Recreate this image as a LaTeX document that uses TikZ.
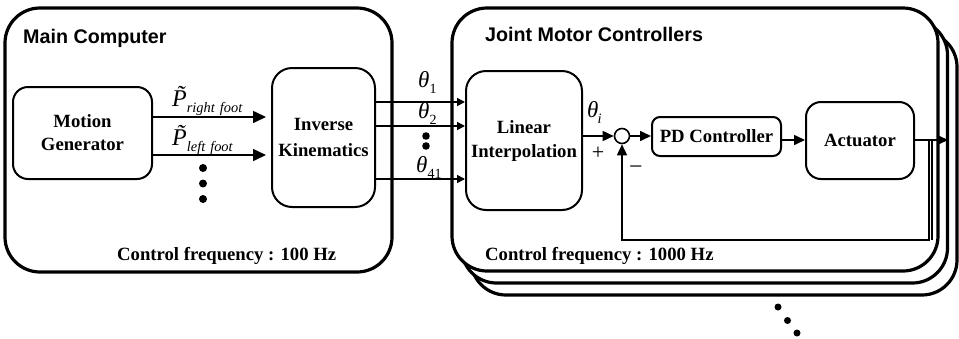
\documentclass[tikz,border=0pt]{standalone}
\usepackage{fontspec}
\setmainfont{Liberation Serif}
\newfontfamily\titlefont{Liberation Sans}
\usetikzlibrary{arrows.meta}
\tikzset{
  outerbox/.style={draw, line width=3.2pt, rounded corners=35pt, fill=white, inner sep=0pt, minimum width=486pt, minimum height=263pt},
  blk/.style={draw, line width=2pt, align=center, inner sep=0pt, font=\fontsize{18.7}{24}\selectfont\bfseries},
  conn/.style={line width=1.6pt},
  bigarr/.style={conn, -{Triangle[length=13pt,width=12pt]}},
  smallarr/.style={conn, -{Triangle[length=8pt,width=8pt]}},
  midarr/.style={conn, -{Triangle[length=11pt,width=10pt]}},
  ttl/.style={anchor=base west, inner sep=0pt, font=\titlefont\bfseries\fontsize{19.7}{20}\selectfont},
  freq/.style={anchor=base west, inner sep=0pt, font=\fontsize{18.7}{20}\selectfont\bfseries},
  lab/.style={anchor=base west, inner sep=0pt},
  sgn/.style={anchor=center, inner sep=0pt},
  dotc/.style={fill=black},
}
\newcommand\thsym{\fontsize{23}{23}\selectfont\itshape θ}
\newcommand\subup[1]{\raisebox{-6pt}{\fontsize{14}{14}\selectfont\upshape #1}}
\newcommand\subit[1]{\raisebox{-6pt}{\fontsize{14.4}{14}\selectfont\itshape #1}}
\newcommand\ptil{{\fontsize{24}{24}\selectfont\itshape \~{P}}}
\begin{document}
\begin{tikzpicture}[x=1pt,y=-1pt]
\useasboundingbox (0,0) rectangle (959,338);
% main computer
\node[outerbox, minimum width=387pt, minimum height=264pt] (main) at (198.5,140) {};
\node[ttl] (maint) at (23,43) {Main Computer};
\node[freq] (mainf) at (117,260) {Control frequency : 100 Hz};
% joint motor controllers stack
\node[outerbox] (jb2) at (714,163.5) {};
\node[outerbox] (jb1) at (704.5,151.5) {};
\node[outerbox] (jmc) at (695,139.5) {};
\node[ttl] (jmct) at (485,41) {Joint Motor Controllers};
\node[freq] (jmcf) at (485,260) {Control frequency : 1000 Hz};
% blocks
\node[blk, rounded corners=15pt, minimum width=139pt, minimum height=92pt] (mg) at (82.5,133) {Motion\\[-1pt]Generator};
\node[blk, rounded corners=20pt, minimum width=103pt, minimum height=139pt] (ik) at (323.5,137.5) {Inverse\\[2pt]Kinematics};
\node[blk, rounded corners=20pt, minimum width=116pt, minimum height=139pt] (li) at (524,140.5) {Linear\\Interpolation};
\node[blk, rounded corners=8pt, minimum width=129pt, minimum height=39pt] (pd) at (716.5,136.5) {PD Controller};
\node[blk, rounded corners=15pt, minimum width=108pt, minimum height=77pt] (act) at (860,140.5) {Actuator};
\node[draw, circle, line width=1.6pt, minimum size=15pt, inner sep=0pt] (sum) at (622,136) {};
% coordinates
\coordinate (p1) at (0,117);
\coordinate (p2) at (0,155);
\coordinate (t1) at (0,102);
\coordinate (t2) at (0,126);
\coordinate (t3) at (0,179);
\coordinate (ao) at (0,140);
\coordinate (fb1) at (929,140);
\coordinate (fb2) at (929,240);
\coordinate (fb3) at (932,140);
\coordinate (fb4) at (932,240);
\coordinate (outtip) at (948,140);
% MG -> IK
\draw[bigarr, shorten >=5pt] (mg.east |- p1) -- (ik.west |- p1);
\draw[bigarr, shorten >=5pt] (mg.east |- p2) -- (ik.west |- p2);
\node[lab] (plab1) at (172,106) {\ptil\subit{right\hspace{5pt}foot}};
\node[lab] (plab2) at (172,145) {\ptil\subit{left\hspace{5pt}foot}};
\fill[dotc] (203,168) circle (4pt) (203,183.5) circle (4pt) (203,199) circle (4pt);
% IK -> LI
\draw[smallarr] (ik.east |- t1) -- (li.west |- t1);
\draw[smallarr] (ik.east |- t2) -- (li.west |- t2);
\draw[smallarr] (ik.east |- t3) -- (li.west |- t3);
\node[lab] (th1) at (418,87) {\thsym\subup{1}};
\node[lab] (th2) at (418,118) {\thsym\subup{2}};
\node[lab] (th41) at (416,172) {\thsym\subup{41}};
\fill[dotc] (426,136) circle (3.8pt) (426,146) circle (3.8pt);
% loop
\draw[midarr] (li.east |- sum) -- (sum.west);
\node[lab] (thi) at (587,117) {\thsym\subit{\hspace{-1pt}i}};
\node[sgn] (plus) at (598,153) {\fontsize{22}{22}\selectfont +};
\node[sgn] (minus) at (636,170) {\fontsize{24}{24}\selectfont −};
\draw[midarr] (sum.east) -- (pd.west |- sum);
\draw[midarr] (pd.east |- ao) -- (act.west |- ao);
\draw[midarr] (act.east |- ao) -- (outtip);
\draw[midarr] (fb1) -- (fb2) -| (sum.south);
\draw[conn] (fb3) -- (fb4);
% dots below
\fill[dotc] (778,307) circle (3.5pt) (787.5,320.5) circle (3.5pt) (797,333) circle (3.5pt);
\end{tikzpicture}
\end{document}
